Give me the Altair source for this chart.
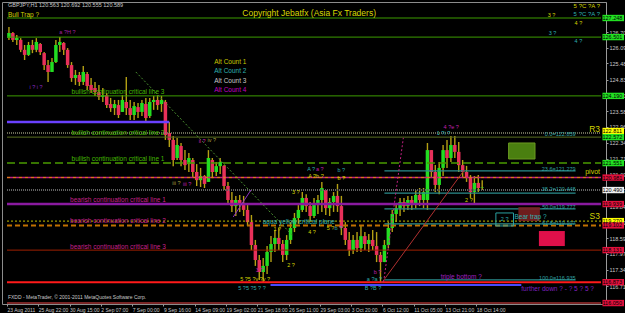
import altair as alt
import pandas as pd

# ---------------- values ----------------
# GBPJPY H1 price path, one drawn candle per 8 hourly bars
bar_high = [126.90, 126.70, 126.58, 126.46, 126.19, 126.31, 126.39, 126.46, 126.27, 125.91,
            125.60, 125.68, 126.39, 126.50, 126.31, 126.07, 125.52, 125.21, 125.13, 125.36,
            125.13, 124.89, 124.74, 124.62, 124.50, 124.30, 124.11, 124.03, 124.03, 124.22,
            124.93, 124.03, 123.95, 123.91, 124.03, 124.11, 124.11, 124.19, 124.22, 124.19,
            124.03, 123.16, 122.61, 122.54, 122.34, 122.06, 121.95, 121.75, 121.51, 121.36,
            121.08, 122.06, 121.75, 121.59, 121.75, 121.47, 120.81, 120.41, 120.26, 120.30,
            120.26, 119.90, 119.51, 118.53, 117.94, 117.82, 118.29, 118.68, 118.92, 119.00,
            118.53, 118.72, 119.23, 119.59, 119.90, 120.41, 120.33, 120.02, 120.18, 120.30,
            120.81, 120.49, 120.18, 120.41, 120.73, 120.26, 119.23, 118.84, 118.72, 118.84,
            119.08, 118.84, 118.76, 118.92, 118.84, 118.06, 118.53, 119.23, 119.71, 119.94,
            120.18, 120.18, 120.26, 120.26, 120.49, 120.57, 120.57, 122.34, 122.06, 121.47,
            121.59, 122.26, 122.46, 122.61, 122.61, 122.38, 121.67, 121.44, 121.08, 121.04,
            121.08, 120.88]
bar_low = [126.39, 126.31, 126.19, 125.91, 125.60, 125.76, 125.87, 125.91, 125.80, 125.21,
           124.74, 125.13, 125.48, 125.91, 125.80, 125.29, 124.74, 124.62, 124.58, 124.62,
           124.42, 124.30, 124.19, 124.03, 123.95, 123.71, 123.56, 123.44, 123.32, 123.56,
           123.44, 123.24, 123.24, 123.32, 123.40, 123.12, 123.32, 123.64, 123.64, 123.56,
           122.46, 122.18, 121.43, 121.67, 121.43, 121.28, 121.20, 120.96, 120.65, 120.61,
           120.57, 120.81, 120.96, 121.04, 121.12, 120.49, 119.90, 119.63, 119.47, 119.63,
           119.47, 119.08, 118.13, 117.51, 116.96, 116.84, 117.19, 117.66, 118.06, 118.13,
           117.66, 117.74, 118.37, 118.84, 119.16, 119.63, 119.63, 119.23, 119.39, 119.55,
           119.63, 119.51, 119.47, 119.63, 119.63, 118.72, 118.33, 117.90, 117.98, 118.06,
           118.06, 118.13, 118.06, 118.13, 117.66, 116.84, 117.66, 118.21, 118.84, 119.23,
           119.47, 119.63, 119.71, 119.71, 119.78, 119.86, 119.78, 119.71, 120.96, 120.41,
           120.33, 121.04, 121.36, 121.59, 121.75, 121.20, 120.96, 120.81, 120.18, 119.98,
           120.41, 120.49]
bar_open = [126.46, 126.66, 126.39, 126.39, 126.00, 125.80, 126.19, 126.00, 126.23, 125.87,
            125.40, 125.13, 125.52, 126.19, 126.27, 126.00, 125.40, 124.89, 125.01, 124.74,
            125.05, 124.62, 124.50, 124.34, 124.15, 124.22, 123.87, 123.71, 123.83, 123.56,
            123.95, 123.71, 123.44, 123.75, 123.56, 123.87, 123.40, 123.95, 124.03, 123.87,
            123.95, 122.73, 122.46, 121.75, 122.22, 121.67, 121.51, 121.67, 121.20, 120.88,
            121.04, 120.81, 121.67, 121.20, 121.43, 121.44, 120.65, 120.10, 119.86, 120.10,
            119.90, 119.71, 119.23, 118.33, 117.74, 117.27, 117.51, 118.06, 118.37, 118.61,
            118.37, 117.94, 118.53, 119.00, 119.39, 119.71, 120.18, 119.86, 119.47, 119.94,
            120.10, 120.49, 119.78, 120.02, 120.26, 119.86, 119.00, 118.53, 118.13, 118.53,
            118.21, 118.68, 118.37, 118.53, 118.29, 117.94, 117.66, 118.33, 119.00, 119.55,
            119.78, 120.02, 119.86, 120.10, 119.94, 120.30, 120.10, 120.10, 122.06, 121.20,
            120.69, 121.36, 122.06, 121.75, 122.26, 121.99, 121.47, 121.20, 120.96, 120.41,
            120.77, 120.57]
bar_close = [126.66, 126.39, 126.46, 126.00, 125.80, 126.19, 126.00, 126.31, 125.91, 125.40,
             125.13, 125.52, 126.19, 126.31, 126.00, 125.40, 124.89, 125.01, 124.74, 125.13,
             124.58, 124.42, 124.34, 124.15, 124.22, 123.83, 123.71, 123.87, 123.44, 124.03,
             123.71, 123.44, 123.79, 123.56, 123.91, 123.32, 123.95, 124.03, 123.83, 124.03,
             122.65, 122.46, 121.67, 122.26, 121.67, 121.47, 121.75, 121.20, 120.88, 121.04,
             120.73, 121.75, 121.20, 121.43, 121.59, 120.65, 120.10, 119.86, 120.10, 119.90,
             119.71, 119.23, 118.33, 117.74, 117.27, 117.51, 118.06, 118.37, 118.61, 118.37,
             117.94, 118.53, 119.00, 119.39, 119.71, 120.18, 119.86, 119.47, 119.94, 120.10,
             120.57, 119.78, 120.02, 120.26, 119.86, 119.00, 118.53, 118.13, 118.53, 118.21,
             118.68, 118.37, 118.53, 118.29, 117.94, 117.66, 118.33, 119.00, 119.55, 119.78,
             120.02, 119.86, 120.10, 119.94, 120.30, 120.10, 120.41, 122.06, 121.20, 120.69,
             121.36, 122.06, 121.75, 122.26, 121.99, 121.47, 121.20, 120.96, 120.41, 120.77,
             120.57, 120.59]
bar_hour = [8 * i + 4 for i in range(len(bar_high))]   # hourly bar index of each candle

time_tick_hours = [64 * k for k in range(16)]
time_tick_labels = ["23 Aug 2011", "25 Aug 22:00", "30 Aug 15:00", "2 Sep 07:00", "7 Sep 00:00",
                    "9 Sep 16:00", "14 Sep 09:00", "19 Sep 02:00", "21 Sep 18:00", "26 Sep 11:00",
                    "29 Sep 03:00", "3 Oct 20:00", "6 Oct 12:00", "11 Oct 05:00", "13 Oct 21:00",
                    "18 Oct 14:00"]
price_ticks = [126.700, 126.090, 125.480, 124.830, 124.209, 123.589, 122.969, 122.340, 121.719,
               121.099, 120.479, 119.849, 119.229, 118.590, 117.979, 117.349, 116.719]

# horizontal levels (price)
lvl_bull_trap = 127.25
lvl_top2 = 126.50
lvl_bull3 = 124.19
lvl_blue = 123.16
lvl_bull2_dot = 122.73
lvl_bull2 = 122.57
lvl_bull1 = 121.55
lvl_pivot = 120.98
lvl_grey = 120.49
lvl_bear1 = 119.94
lvl_s3 = 119.27
lvl_bear2 = 119.10
lvl_bear3 = 118.13
lvl_red = 116.87
lvl_blue_low = 116.76
lvl_bottom = 116.05
fib_levels = [121.24, 120.37, 119.75, 119.16, 116.96]
fib_texts = ["0.0=122.859", "23.6=121.279", "38.2=120.448", "50.0=119.777", "61.8=119.107", "100.0=116.935"]
fib_text_prices = [122.69, 121.32, 120.53, 119.82, 119.20, 117.03]

# right-axis price boxes (price, label)
box_prices = [127.25, 126.50, 124.19, 122.81, 122.57, 121.55, 120.98, 120.49, 119.94, 119.27,
              119.10, 118.13, 116.87, 116.05]
box_labels = ["127.248", "126.501", "124.190", "122.811", "122.572", "121.551", "120.981",
              "120.490", "119.939", "119.270", "119.102", "118.131", "116.873", "116.050"]

# ---------------- chart ----------------
T_END = 1215
P_MIN, P_MAX = 116.013, 127.879
FONT = "Liberation Sans"

YEL = "#d4d400"
OLV = "#a8a040"
CYN = "#2eb0b0"
MAG = "#c020b0"
PUR = "#8a2ac0"
WHT = "#c8c8c8"
PNK = "#c8208a"
GRN = "#3c9c00"
GRN_T = "#44b800"
RED_BOX = "#e0103c"
GRN_BOX = "#22e022"

xs = alt.Scale(domain=[0, T_END], nice=False, zero=False)
ys = alt.Scale(domain=[P_MIN, P_MAX], nice=False, zero=False)

labels_js = "[" + ",".join("'%s'" % s for s in time_tick_labels) + "]"
x_axis = alt.Axis(values=time_tick_hours, labelExpr=labels_js + "[round(datum.value / 64)]",
                  labelAlign="left", labelBaseline="top", labelFontSize=5, labelFont=FONT,
                  labelColor=WHT, tickSize=2, tickColor="#9a9a9a", domain=False, grid=False,
                  labelPadding=1, labelOverlap=False, labelFlush=False)
y_axis = alt.Axis(orient="right", values=price_ticks, format=".3f", labelFontSize=5.5,
                  labelFont=FONT, labelColor=WHT, tickSize=2, tickColor="#9a9a9a",
                  domainColor="#9a9a9a", grid=False, labelPadding=1, labelOverlap=False,
                  labelFlush=False, labelAlign="left", labelBaseline="middle")


def X(f):
    return alt.X(f + ":Q", scale=xs, axis=x_axis, title=None)


def Y(f):
    return alt.Y(f + ":Q", scale=ys, axis=y_axis, title=None)


layers = []

cdf = pd.DataFrame({"t": bar_hour, "hi": bar_high, "lo": bar_low, "o": bar_open, "c": bar_close})
cdf["up"] = cdf["c"] >= cdf["o"]
layers.append(alt.Chart(cdf).mark_rule(color="#b4a014", strokeWidth=1.4)
              .encode(x=X("t"), y=Y("lo"), y2="hi:Q"))
layers.append(alt.Chart(cdf[cdf["up"]]).mark_bar(width=3.5, color="#22dd22")
              .encode(x=X("t"), y=Y("o"), y2="c:Q"))
layers.append(alt.Chart(cdf[~cdf["up"]]).mark_bar(width=3.5, color="#e8305a")
              .encode(x=X("t"), y=Y("o"), y2="c:Q"))


def hrule(p, color, width=1.0, dash=None, t0=0, t1=T_END, offset=None):
    df = pd.DataFrame({"t": [t0], "t2": [t1], "p": [p]})
    props = dict(color=color, strokeWidth=width)
    if dash is not None:
        props["strokeDash"] = dash
    if offset is not None:
        props["strokeDashOffset"] = offset
    return alt.Chart(df).mark_rule(**props).encode(x=X("t"), x2="t2:Q", y=Y("p"))


def seg(t0, p0, t1, p1, color, width=1.0, dash=None):
    df = pd.DataFrame({"t": [t0], "t2": [t1], "p": [p0], "p2": [p1]})
    props = dict(color=color, strokeWidth=width)
    if dash is not None:
        props["strokeDash"] = dash
    return alt.Chart(df).mark_rule(**props).encode(x=X("t"), x2="t2:Q", y=Y("p"), y2="p2:Q")


def rect(t0, t1, p0, p1, fill, stroke=None, opacity=1.0):
    df = pd.DataFrame({"t": [t0], "t2": [t1], "p": [p0], "p2": [p1]})
    props = dict(fill=fill, opacity=opacity)
    if stroke is not None:
        props["stroke"] = stroke
        props["strokeWidth"] = 1
    return alt.Chart(df).mark_rect(**props).encode(x=X("t"), x2="t2:Q", y=Y("p"), y2="p2:Q")


def texts(rows, align):
    df = pd.DataFrame(rows, columns=["txt", "t", "p", "col", "fs"])
    return alt.Chart(df).mark_text(align=align, baseline="middle", font=FONT).encode(
        x=X("t"), y=Y("p"), text="txt:N",
        color=alt.Color("col:N", scale=None), size=alt.Size("fs:Q", scale=None))


# horizontal lines
layers += [
    hrule(lvl_bull_trap, GRN),
    hrule(lvl_top2, GRN),
    hrule(lvl_bull3, GRN),
    hrule(lvl_blue, "#6a40ff", 2.5, t1=332),
    hrule(lvl_bull2_dot, "#8a8a70", 1.5, [1, 1]),
    hrule(lvl_bull2, "#5a7020"),
    hrule(lvl_bull1, "#4a9a00", 1.5, [8, 4]),
    hrule(lvl_pivot, "#e07020", 1.5, [3, 3]),
    hrule(lvl_pivot, "#c02080", 1.5, [3, 3], offset=3),
    hrule(lvl_grey, "#606060", 2, [1, 1]),
    hrule(lvl_bear1, "#8a1aa0", 2.5),
    hrule(lvl_s3, "#c0c000", 1, [2, 2]),
    hrule(lvl_bear2, "#c07000", 2, [5, 3]),
    hrule(lvl_bear3, "#a02000"),
    hrule(lvl_red, "#ff1a1a", 2),
    hrule(lvl_blue_low, "#4848ff", 2, t0=539, t1=1052),
    hrule(lvl_bottom, "#a03030", 1.5),
]
for fl in fib_levels:
    layers.append(hrule(fl, "#2a8c8c", 1.2, t0=772, t1=1163))

# trend lines
layers += [
    seg(263.5, 125.13, 583.4, 118.72, "#4a9030", 1, [2, 2]),
    seg(766.4, 116.84, 935.4, 121.28, "#b03030", 1),
    seg(770.4, 116.88, 810.7, 122.54, "#c02080", 1, [2, 2]),
    seg(462.7, 119.43, 498.9, 120.49, "#9030c0", 1),
]

# boxes on chart
layers += [
    rect(1026, 1080, 122.34, 121.71, "#4a7f10", "#6a9a20"),
    rect(1088, 1141, 118.88, 118.29, "#e0104a"),
    rect(1046, 1090, 119.82, 119.27, "#7a2020", opacity=0.9),
    rect(1000, 1036, 119.59, 119.08, "transparent", "#2aa0a0"),
]

left_rows = [
    ("GBPJPY,H1 120.563 120.692 120.555 120.589", 2, 127.76, WHT, 5.5),
    ("Bull Trap ?", 2, 127.37, YEL, 6.5),
    ("Alt Count 1", 424, 125.52, "#c8c800", 6.5),
    ("Alt Count 2", 424, 125.17, CYN, 6.5),
    ("Alt Count 3", 424, 124.77, WHT, 6.5),
    ("Alt Count 4", 424, 124.42, "#c000c0", 6.5),
    ("a ?H ?", 107, 126.70, "#a020a0", 5.5),
    ("i ? i ?", 46, 124.54, PUR, 5.5),
    ("5 ?C ?A ?", 1159, 127.72, YEL, 6),
    ("5 ?C ?A ?", 1159, 127.41, CYN, 6),
    ("3 ?", 1106, 127.37, YEL, 5.5),
    ("4 ?", 1161, 127.05, YEL, 5.5),
    ("3 ?", 1108, 126.66, CYN, 5.5),
    ("4 ?", 1161, 126.35, CYN, 5.5),
    ("ii ?", 392, 122.42, MAG, 5.5),
    ("iv ?", 410, 122.46, OLV, 5.5),
    ("iii ?", 338, 120.77, OLV, 5.5),
    ("iii ?", 360, 120.73, MAG, 5.5),
    ("A ?", 614, 121.32, CYN, 5.5),
    ("a ?", 632, 121.32, MAG, 5.5),
    ("A ?b ?", 616, 121.04, YEL, 5.5),
    ("b ?", 676, 121.28, CYN, 5.5),
    ("b ?", 676, 120.96, YEL, 5.5),
    ("3 ?", 583, 120.41, YEL, 5.5),
    ("aqua yellow critical plane", 523, 119.23, CYN, 6.5),
    ("1 ?", 545, 118.96, YEL, 5.5),
    ("4 ?", 616, 118.84, YEL, 5.5),
    ("5 ?", 654, 119.00, YEL, 5.5),
    ("b ?", 670, 119.00, CYN, 5.5),
    ("3 ?", 509, 117.35, MAG, 5.5),
    ("2 ?", 573, 117.55, YEL, 5.5),
    ("5 ?5 ?v ?v ?", 477, 116.99, YEL, 5.5),
    ("5 ?5 ?5 ? ?", 473, 116.64, CYN, 5.5),
    ("b ?", 750, 117.27, MAG, 5.5),
    ("a ?a ?", 736, 116.99, CYN, 5.5),
    ("B ?B ?", 732, 116.64, CYN, 5.5),
    ("4 ?e ?", 893, 122.97, MAG, 5.5),
    ("1 ?i ?", 879, 122.73, CYN, 5.5),
    ("2 ?", 937, 120.10, YEL, 5.5),
    ("Bear trap ?", 1038, 119.43, CYN, 6.5),
    ("triple bottom ?", 887, 117.07, "#a020c0", 6.5),
    ("further down ? - ? 5 ? 5 ?", 1052, 116.60, "#8020c0", 6.5),
    ("FXDD - MetaTrader, \u00a9 2001-2011 MetaQuotes Software Corp.", 2, 116.29, WHT, 5),
]
center_rows = [
    ("Copyright Jebatfx (Asia Fx Traders)", 618, 127.45, "#d8d800", 8.5),
    ("bullish continuation critical line 3", 227, 124.34, GRN_T, 6.5),
    ("bullish continuation critical line 2", 227, 122.73, GRN_T, 6.5),
    ("bullish continuation critical line 1", 227, 121.71, GRN_T, 6.5),
    ("bearish continuation critical line 1", 227, 120.10, PNK, 6.5),
    ("bearish continuation critical line 2", 227, 119.27, PNK, 6.5),
    ("bearish continuation critical line 3", 227, 118.25, PNK, 6.5),
    ("2 ?", 1018, 119.35, CYN, 5.5),
]
right_rows = [(s, 1163, p, "#30a0a0", 5.5) for s, p in zip(fib_texts, fib_text_prices)]
right_rows += [
    ("R3", 1213, 122.89, YEL, 8.5),
    ("pivot", 1213, 121.20, YEL, 7),
    ("S3", 1213, 119.47, YEL, 8.5),
]
layers += [texts(left_rows, "left"), texts(center_rows, "center"), texts(right_rows, "right")]

# right-axis coloured price boxes
box_colors = [GRN_BOX, GRN_BOX, GRN_BOX, "#ffff00", GRN_BOX, GRN_BOX, RED_BOX, "#f0f0f0",
              RED_BOX, "#ffff00", RED_BOX, RED_BOX, RED_BOX, RED_BOX]
bdf = pd.DataFrame({"t": [1218] * len(box_prices), "t2": [1262] * len(box_prices),
                    "p": [b + 0.125 for b in box_prices], "p2": [b - 0.125 for b in box_prices],
                    "pc": box_prices, "col": box_colors, "txt": box_labels})
layers.append(alt.Chart(bdf).mark_rect().encode(
    x=X("t"), x2="t2:Q", y=Y("p"), y2="p2:Q", color=alt.Color("col:N", scale=None)))
layers.append(alt.Chart(bdf).mark_text(align="left", baseline="middle", font=FONT, fontSize=5.5,
                                       color="#000000").encode(x=X("t"), y=Y("pc"), text="txt:N"))

chart = alt.layer(*layers).properties(
    width=604, height=302, background="black", autosize="none",
    padding={"left": 2, "top": 2, "right": 19, "bottom": 9},
).configure_view(stroke="#8c8c8c", fill="black")

chart.save("out.html", embed_options={"renderer": "svg", "actions": False})
